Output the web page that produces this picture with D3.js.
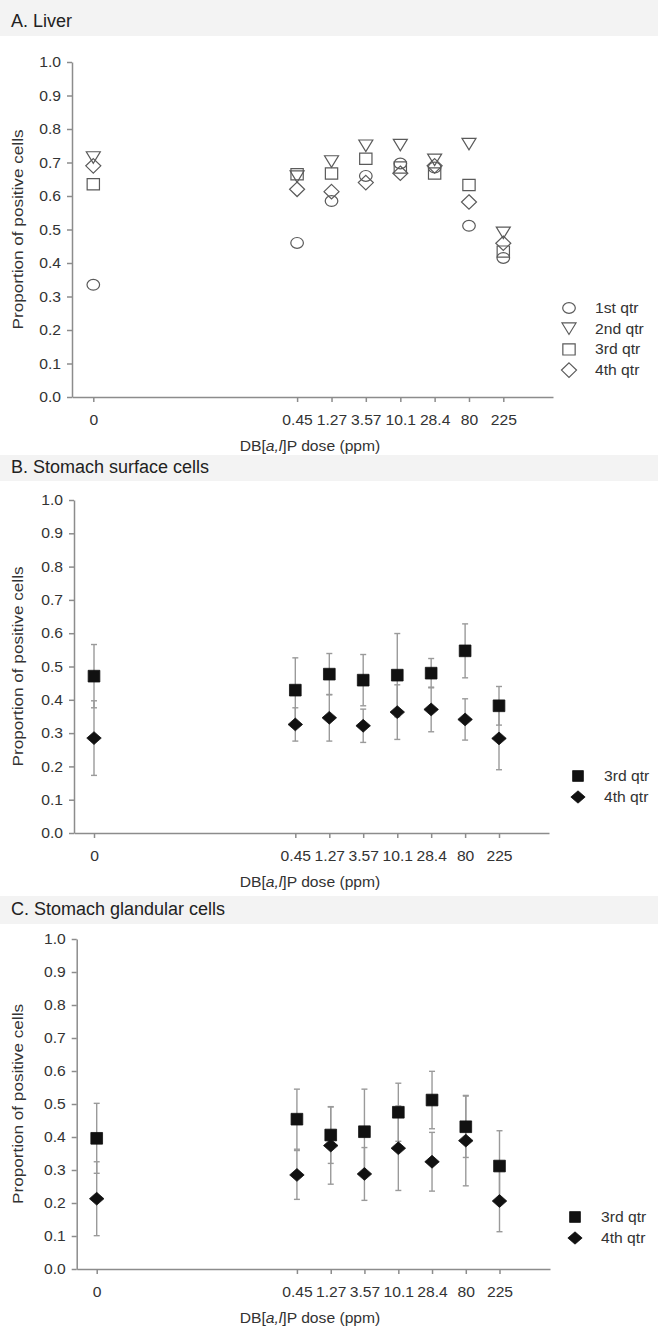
<!DOCTYPE html>
<html>
<head>
<meta charset="utf-8">
<script src="https://cdn.jsdelivr.net/npm/d3@7"></script>
<style>
  body { margin: 0; background: #fff; }
  svg { display: block; font-family: "Liberation Sans", Arial, sans-serif; }
</style>
</head>
<body>
<div id="chart"></div>
<script>
// doses on the x axis
const doses = [0, 0.45, 1.27, 3.57, 10.1, 28.4, 80, 225];
const doseLabels = ["0", "0.45", "1.27", "3.57", "10.1", "28.4", "80", "225"];
const yTicks = [0, 0.1, 0.2, 0.3, 0.4, 0.5, 0.6, 0.7, 0.8, 0.9, 1.0];

// A. Liver
const liverQ1 = [0.335, 0.46, 0.585, 0.66, 0.697, 0.685, 0.511, 0.415];
const liverQ2 = [0.715, 0.658, 0.703, 0.75, 0.752, 0.708, 0.755, 0.49];
const liverQ3 = [0.635, 0.665, 0.667, 0.711, 0.685, 0.667, 0.633, 0.434];
const liverQ4 = [0.69, 0.62, 0.613, 0.64, 0.668, 0.69, 0.582, 0.459];

// B. Stomach surface cells
const surfQ3 = [0.471, 0.429, 0.477, 0.459, 0.474, 0.48, 0.547, 0.382];
const surfQ3err = [0.095, 0.097, 0.062, 0.077, 0.125, 0.044, 0.081, 0.058];
const surfQ4 = [0.285, 0.326, 0.346, 0.322, 0.363, 0.371, 0.341, 0.284];
const surfQ4err = [0.112, 0.05, 0.07, 0.05, 0.082, 0.067, 0.062, 0.094];

// C. Stomach glandular cells
const glandQ3 = [0.396, 0.454, 0.406, 0.416, 0.475, 0.512, 0.431, 0.312];
const glandQ3err = [0.106, 0.091, 0.086, 0.129, 0.088, 0.087, 0.093, 0.107];
const glandQ4 = [0.213, 0.285, 0.374, 0.288, 0.366, 0.325, 0.389, 0.206];
const glandQ4err = [0.112, 0.074, 0.117, 0.08, 0.128, 0.089, 0.137, 0.093];

const W = 658, H = 1334;
const SX = 1.08;          // figure is a bit stretched sideways
const axisColor = "#8c8c8c";
const textColor = "#333";

const svg = d3.select("#chart").append("svg")
    .attr("width", W).attr("height", H);
const bands = svg.append("g");

// log-ish dose position, zero dose drawn ~6 steps left of 0.45
const logStep = (Math.log10(225) - Math.log10(0.45)) / 6;
const zeroLog = Math.log10(0.45) - 5.93 * logStep;
const pos = d => d === 0 ? zeroLog : Math.log10(d);

// marker shapes, width/height in px
function shape(type, w, h) {
    const a = w / 2, b = h / 2;
    if (type === "circle") return `M${-a},0 a${a},${b} 0 1,0 ${w},0 a${a},${b} 0 1,0 ${-w},0 Z`;
    if (type === "triangle") return `M${-a},${-b} L${a},${-b} L0,${b} Z`;
    if (type === "square") return `M${-a},${-b} H${a} V${b} H${-a} Z`;
    return `M0,${-b} L${a},0 L0,${b} L${-a},0 Z`;
}

const openSizes = { circle: [12.6, 10.8], triangle: [14, 11.5], square: [12.3, 11.2], diamond: [15, 14.5] };
const filledSizes = { square: [11.7, 11.7], diamond: [14.5, 12.8] };
const legendFilled = { square: [10.8, 10.8], diamond: [14.3, 12.3] };

function drawPanel(p) {
    const g = svg.append("g");

    // title strip
    bands.append("rect")
        .attr("x", 0).attr("y", p.band[0])
        .attr("width", W).attr("height", p.band[1] - p.band[0])
        .attr("fill", "#f3f3f3");
    g.append("text")
        .attr("x", 11).attr("y", p.titleY)
        .style("font-size", "18px")
        .attr("fill", "#222")
        .text(p.title);

    const y = d3.scaleLinear().domain([0, 1]).range([p.bottom, p.top]);
    const xBase = d3.scaleLinear().domain([zeroLog, Math.log10(225)]).range([p.x0, p.x225]);
    const x = xBase.copy()
        .domain([xBase.invert(p.axisX), xBase.invert(p.right)])
        .range([p.axisX, p.right]);

    // x axis
    const gx = g.append("g")
        .attr("transform", `translate(0,${p.bottom})`)
        .call(d3.axisBottom(x)
            .tickValues(doses.map(pos))
            .tickFormat((d, i) => doseLabels[i])
            .tickSize(5).tickSizeOuter(0));
    gx.selectAll("text")
        .attr("y", null).attr("dy", "0.35em")
        .attr("transform", `translate(0,23) scale(${SX},1)`);

    // y axis
    const gy = g.append("g")
        .attr("transform", `translate(${p.axisX},0)`)
        .call(d3.axisLeft(y)
            .tickValues(yTicks)
            .tickFormat(d3.format(".1f"))
            .tickSize(5).tickSizeOuter(0));
    gy.selectAll("text")
        .attr("x", null)
        .attr("transform", `translate(-11,0) scale(${SX},1)`);

    [gx, gy].forEach(a => {
        a.selectAll("path, line").attr("stroke", axisColor).attr("stroke-width", 1.5);
        a.selectAll("text").style("font-size", "14.5px").attr("fill", textColor)
            .style("font-family", "'Liberation Sans', Arial, sans-serif");
    });

    // axis titles
    const xl = g.append("text")
        .attr("transform", `translate(310,${p.bottom + 49}) scale(${SX},1)`)
        .attr("dy", "0.35em")
        .attr("text-anchor", "middle")
        .style("font-size", "14.5px")
        .attr("fill", textColor);
    xl.append("tspan").text("DB[");
    xl.append("tspan").style("font-style", "italic").text("a,l");
    xl.append("tspan").text("]P dose (ppm)");

    g.append("text")
        .attr("transform", `translate(18,${(p.top + p.bottom) / 2}) rotate(-90)`)
        .attr("dy", "0.35em")
        .attr("text-anchor", "middle")
        .attr("textLength", 200)
        .attr("lengthAdjust", "spacingAndGlyphs")
        .style("font-size", "15.5px")
        .attr("fill", textColor)
        .text("Proportion of positive cells");

    // error bars first, markers on top
    p.series.forEach(s => {
        if (!s.err) return;
        const eb = g.append("g").attr("stroke", "#9a9a9a").attr("stroke-width", 1.4);
        s.values.forEach((v, i) => {
            const cx = x(pos(doses[i]));
            const lo = y(v - s.err[i]), hi = y(v + s.err[i]);
            eb.append("line").attr("x1", cx).attr("x2", cx).attr("y1", lo).attr("y2", hi);
            eb.append("line").attr("x1", cx - 3).attr("x2", cx + 3).attr("y1", lo).attr("y2", lo);
            eb.append("line").attr("x1", cx - 3).attr("x2", cx + 3).attr("y1", hi).attr("y2", hi);
        });
    });

    p.series.forEach(s => {
        const sz = s.filled ? filledSizes[s.shape] : openSizes[s.shape];
        g.append("g").selectAll("path")
            .data(s.values)
            .join("path")
            .attr("transform", (v, i) => `translate(${x(pos(doses[i]))},${y(v)})`)
            .attr("d", shape(s.shape, sz[0], sz[1]))
            .attr("fill", s.filled ? "#111" : "none")
            .attr("stroke", s.filled ? "#111" : "#5a5a5a")
            .attr("stroke-width", s.filled ? 0.8 : 1.2);
    });

    // legend
    p.series.forEach((s, i) => {
        const ly = p.legendY + i * p.legendStep;
        const sz = s.filled ? legendFilled[s.shape] : openSizes[s.shape];
        g.append("path")
            .attr("transform", `translate(${p.legendX},${ly})`)
            .attr("d", shape(s.shape, sz[0], sz[1]))
            .attr("fill", s.filled ? "#111" : "none")
            .attr("stroke", s.filled ? "#111" : "#5a5a5a")
            .attr("stroke-width", s.filled ? 0.8 : 1.2);
        g.append("text")
            .attr("transform", `translate(${p.legendX + 26},${ly}) scale(${SX},1)`)
            .attr("dy", "0.35em")
            .style("font-size", "14.5px")
            .attr("fill", textColor)
            .text(s.name);
    });
}

drawPanel({
    title: "A. Liver", titleY: 27, band: [0, 36],
    top: 62, bottom: 397, axisX: 72, x0: 93.3, x225: 503.3, right: 553,
    legendX: 569, legendY: 308, legendStep: 20.7,
    series: [
        { name: "1st qtr", shape: "circle", values: liverQ1 },
        { name: "2nd qtr", shape: "triangle", values: liverQ2 },
        { name: "3rd qtr", shape: "square", values: liverQ3 },
        { name: "4th qtr", shape: "diamond", values: liverQ4 }
    ]
});

drawPanel({
    title: "B. Stomach surface cells", titleY: 473, band: [455, 481],
    top: 500, bottom: 833, axisX: 74, x0: 94, x225: 499, right: 549,
    legendX: 578, legendY: 776, legendStep: 21,
    series: [
        { name: "3rd qtr", shape: "square", filled: true, values: surfQ3, err: surfQ3err },
        { name: "4th qtr", shape: "diamond", filled: true, values: surfQ4, err: surfQ4err }
    ]
});

drawPanel({
    title: "C. Stomach glandular cells", titleY: 915, band: [896, 924],
    top: 939, bottom: 1269, axisX: 76.7, x0: 96.7, x225: 499.5, right: 550,
    legendX: 575, legendY: 1217, legendStep: 21,
    series: [
        { name: "3rd qtr", shape: "square", filled: true, values: glandQ3, err: glandQ3err },
        { name: "4th qtr", shape: "diamond", filled: true, values: glandQ4, err: glandQ4err }
    ]
});
</script>
</body>
</html>
